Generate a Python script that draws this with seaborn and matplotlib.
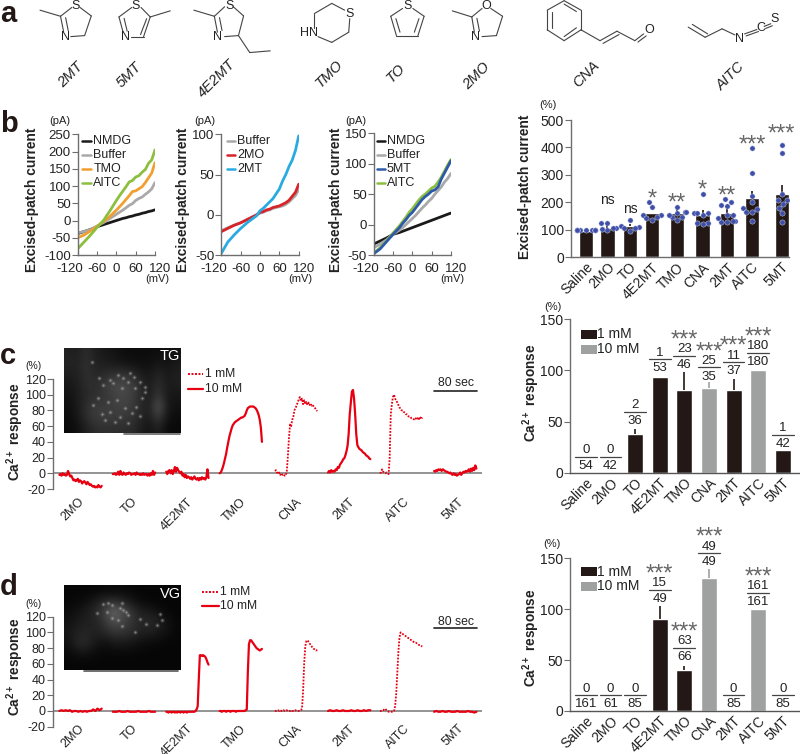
import numpy as np
import matplotlib
matplotlib.use("Agg")
import matplotlib.pyplot as plt
from matplotlib.patches import Rectangle
from matplotlib.transforms import ScaledTranslation
import pandas as pd
import seaborn as sns

sns.set_style("white")
plt.rcParams['font.family'] = ['Liberation Sans', 'DejaVu Sans']
plt.rcParams['axes.unicode_minus'] = False
plt.rcParams['mathtext.fontset'] = 'custom'
plt.rcParams['mathtext.bf'] = 'Liberation Sans:bold'
plt.rcParams['mathtext.rm'] = 'Liberation Sans'

DARK = '#231815'
GREY_BAR = '#9fa0a0'
AXIS = '#6e6e6e'
RED = '#e60012'
BLUE_DOT = '#3f4fa8'

# ---- panel a ----
COMPOUNDS = ['2MT', '5MT', '4E2MT', 'TMO', 'TO', '2MO', 'CNA', 'AITC']
COMPOUND_X = [71, 129, 217, 329, 396, 476, 586, 731]
COMPOUND_Y = [75, 75, 79, 74, 73, 76, 74, 76]

BONDS = [
    (78, 30, 118, 48), (118, 48, 140, 22), (156, 22, 178, 47), (178, 47, 165, 105), (165, 105, 138, 108),
    (118, 48, 124, 93), (128, 52, 133, 90),
    (232, 50, 257, 22), (275, 22, 293, 50), (293, 50, 280, 108), (280, 108, 255, 108), (232, 50, 240, 95),
    (242, 54, 248, 92), (286, 55, 274, 102), (293, 50, 332, 32),
    (378, 30, 418, 48), (418, 48, 438, 20), (455, 20, 475, 47), (475, 47, 465, 105), (465, 105, 438, 108),
    (418, 48, 424, 95), (428, 52, 433, 90), (465, 105, 487, 155), (487, 155, 527, 150),
    (613, 82, 613, 40), (613, 40, 647, 10), (647, 10, 672, 30), (682, 55, 680, 95), (680, 95, 647, 125),
    (647, 125, 620, 108),
    (762, 48, 785, 25), (805, 25, 827, 48), (827, 48, 815, 105), (815, 105, 773, 105), (773, 105, 762, 48),
    (772, 55, 780, 95), (817, 55, 808, 95),
    (882, 32, 920, 50), (920, 50, 940, 25), (957, 25, 980, 48), (980, 48, 968, 105), (968, 105, 940, 108),
    (920, 50, 925, 95), (930, 54, 935, 92),
    (1100, 2, 1133, 30), (1133, 30, 1133, 88), (1133, 88, 1100, 120), (1100, 120, 1067, 88), (1067, 88, 1067, 30),
    (1067, 30, 1100, 2), (1100, 12, 1124, 34), (1124, 82, 1100, 108), (1076, 82, 1076, 36),
    (1133, 88, 1170, 120), (1170, 120, 1203, 92), (1176, 128, 1207, 102), (1203, 92, 1238, 120),
    (1238, 120, 1255, 100), (1244, 124, 1260, 106),
    (1342, 80, 1375, 110), (1350, 72, 1380, 100), (1375, 110, 1408, 85), (1408, 85, 1433, 103),
    (1452, 100, 1476, 87), (1455, 106, 1479, 93), (1490, 78, 1503, 70), (1493, 84, 1506, 76),
]
ATOMS = [
    ('S', 148, 18), ('N', 127, 108), ('S', 265, 18), ('N', 245, 110), ('S', 447, 18), ('N', 425, 110),
    ('S', 682, 40), ('HN', 603, 97), ('S', 795, 18), ('O', 948, 18), ('N', 928, 110), ('O', 1267, 88),
    ('N', 1442, 114), ('C', 1484, 82), ('S', 1510, 57),
]

# ---- panel b current traces ----
MV = [-120, -100, -80, -60, -40, -30, -20, -10, 0, 10, 20, 30, 40, 50, 60, 70, 80, 90, 100, 110, 120]
B1_NMDG = [-38, -32, -26, -18, -12, -9, -6, -3, 0, 3, 6, 8, 11, 13, 16, 18, 21, 23, 26, 28, 31]
B1_BUFFER = [-36, -32, -26, -16, -6, 0, 6, 12, 18, 24, 30, 37, 44, 49, 58, 64, 68, 76, 83, 92, 110]
B1_TMO = [-50, -42, -30, -17, -3, 4, 12, 21, 30, 40, 50, 61, 72, 84, 86, 92, 98, 110, 124, 138, 168]
B1_AITC = [-82, -62, -42, -20, 0, 14, 28, 43, 58, 72, 85, 98, 112, 116, 126, 130, 140, 148, 166, 176, 205]
B2_BUFFER = [-20, -16, -13, -10, -6, -4, -2, 0, 2, 3, 5, 6, 8, 9, 10, 11, 13, 16, 20, 24, 31]
B2_2MO = [-21, -17, -13, -10, -6, -4, -2, 0, 3, 4, 6, 7, 9, 10, 11, 13, 15, 18, 23, 28, 38]
B2_2MT = [-48, -34, -25, -17, -10, -7, -4, -1, 5, 8, 12, 16, 20, 26, 32, 42, 50, 60, 68, 80, 98]
B3_NMDG = [-32, -27, -22, -16, -13, -11, -9, -7, -5, -3, -1, 1, 3, 5, 7, 9, 11, 13, 15, 17, 19]
B3_BUFFER = [-38, -32, -25, -16, -9, -5, 0, 5, 10, 15, 21, 27, 32, 38, 43, 50, 56, 62, 70, 76, 84]
B3_5MT = [-48, -40, -28, -16, -5, 2, 8, 15, 20, 27, 34, 41, 46, 50, 55, 57, 62, 75, 85, 95, 105]
B3_AITC = [-47, -38, -27, -14, -2, 5, 12, 20, 26, 33, 40, 46, 50, 55, 60, 63, 70, 78, 88, 98, 107]

# ---- panel b bars ----
DRUGS = ['Saline', '2MO', 'TO', '4E2MT', 'TMO', 'CNA', '2MT', 'AITC', '5MT']
B4_POS = [0, 0.98, 2, 3, 4.15, 5.3, 6.4, 7.55, 8.9]
B4_MEAN = [96, 108, 113, 160, 160, 155, 162, 215, 232]
B4_ERR = [0, 12, 9, 0, 15, 17, 13, 28, 33]
B4_POINTS = [
    [100] * 9,
    [124, 126, 106, 106, 100, 104],
    [136, 112, 114, 97, 105, 106],
    [200, 182, 154, 154, 146, 136, 142],
    [183, 160, 166, 166, 148, 154, 148, 136],
    [231, 160, 160, 160, 154, 126, 126, 121],
    [212, 190, 203, 187, 154, 154, 130, 133, 133, 144, 128],
    [397, 306, 225, 203, 178, 176, 164, 164, 133],
    [409, 381, 231, 209, 209, 194, 178, 160, 130],
]
B4_SIG = ['', 'ns', 'ns', '*', '**', '*', '**', '***', '***']
B4_SIG_Y = [0, 209, 175, 229, 215, 263, 243, 427, 466]

# ---- panel c and d bars ----
C_MEAN = [0, 0, 37.5, 94, 81, 83, 81, 100, 22]
C_ERR = [0, 0, 5.5, 0, 17, 6, 11, 0, 0]
C_DOSE = ['1 mM', '1 mM', '1 mM', '1 mM', '1 mM', '10 mM', '1 mM', '10 mM', '1 mM']
C_NUM = [0, 0, 2, 1, 23, 25, 11, 180, 1]
C_DEN = [54, 42, 36, 53, 46, 35, 37, 180, 42]
C_LINE = [15.6, 15.6, 59.7, 111, 114, 103, 108, 117, 37]
C_STARS = [0, 0, 0, 0, 1, 1, 1, 1, 0]

D_MEAN = [0, 0, 0, 90, 40, 131, 0, 100, 0]
D_ERR = [0, 0, 0, 13, 4, 8, 0, 0, 0]
D_DOSE = ['1 mM', '1 mM', '1 mM', '1 mM', '1 mM', '10 mM', '1 mM', '10 mM', '1 mM']
D_NUM = [0, 0, 0, 15, 63, 49, 0, 161, 0]
D_DEN = [161, 61, 85, 49, 66, 49, 85, 161, 85]
D_LINE = [15.4, 15.4, 15.4, 119, 62, 155, 15.4, 116, 15.4]
D_STARS = [0, 0, 0, 1, 1, 1, 0, 1, 0]

# ---- panel c and d calcium traces ----
TRACE_NAMES = ['2MO', 'TO', '4E2MT', 'TMO', 'CNA', '2MT', 'AITC', '5MT']
TRACE_LABEL_SEC = [38, 145, 234, 343, 449, 551, 653, 757]
TRACE_START = [12.6, 113.6, 214.6, 315.6, 420, 520.5, 618.6, 721]
C_TRACES = [
    [-2, -1, -3, 0, -2, -1, -3, -2, 3, -1, -4, -3, -6, -9, -8, -10, -9, -7, -11, -9, -10, -13, -11, -10, -12, -14,
     -11, -13, -15, -14, -16, -17, -16, -18, -17, -18, -15, -17, -18, -16],
    [-1, -1, 0, -2, -1, 2, -2, 3, -1, -2, 1, -1, -2, 0, -1, 1, 0, -2, -1, -1, 0, -2, 1, -1, -1, -2, -1, -2, 0, -2,
     -1, -1, -3, -1, -3, 0, -2, 3, -2, 1],
    [2, -1, 3, 4, 0, 4, -1, 3, 8, 2, 7, 4, 2, 0, 2, -3, -1, -5, -2, -6, -4, -5, -7, -5, -8, -6, -4, -7, -8, -6, -9,
     -6, -8, -5, -7, -6, -8, -5, 5, -6],
    [0, 1, 4, 8, 13, 19, 25, 33, 40, 47, 52, 57, 61, 63, 65, 66, 67, 68, 69, 70, 71, 71, 72, 73, 76, 80, 83, 84, 85,
     85, 85, 85, 84, 83, 81, 78, 74, 68, 58, 40],
    [3, 4, 1, -1, 1, -2, 0, -2, -1, -3, -3, 3, 22, 45, 62, 60, 68, 72, 80, 83, 86, 90, 94, 97, 92, 95, 88, 93, 88,
     91, 87, 90, 87, 89, 86, 87, 84, 83, 81, 79],
    [1, 3, 1, 4, 2, 3, 2, 5, 4, 8, 7, 11, 13, 15, 18, 19, 23, 28, 35, 50, 75, 90, 104, 106, 95, 75, 50, 36, 33, 31,
     30, 29, 27, 26, 25, 23, 22, 21, 19, 18],
    [0, 1, 5, 2, 1, 0, 1, 0, -1, 20, 75, 88, 97, 100, 95, 93, 90, 87, 84, 82, 80, 80, 78, 77, 75, 75, 73, 72, 72,
     70, 70, 69, 68, 70, 68, 71, 69, 72, 69, 71],
    [3, 2, 4, 3, 5, 4, 5, 3, 5, 4, 3, 2, 2, 1, 0, 1, -1, -2, 0, -2, -1, -3, -2, -1, 1, -2, 0, 2, 1, 3, 2, 3, 5, 2,
     6, 3, 7, 4, 10, 6],
]
D_TRACES = [
    [0, 1, 0, 1, 0, 1, -1, 0, 0, -1, 0, -1, 0, -1, 0, 0, 2, 0, 3, 1, 3],
    [-1, -1, -1, 0, -1, -1, -1, 0, -1, -1, -1, -1, 0, -1, -1, -1, -1, 0, -1, -1, -1],
    [-1, -1, -2, -1, -1, -2, -1, -1, -2, -1, -2, -1, -1, -2, -1, -1, -2, -1, -1, -2, -1, -1, -1, -1, -1, -1, -1, 0,
     2, 6, 40, 71, 71, 70, 71, 70, 69, 66, 62, 59],
    [0, 0, -1, 0, 0, 0, -1, 0, 0, 0, -1, 0, 0, 0, 0, -1, 0, 0, 0, 0, 0, 0, 0, 0, 1, 2, 50, 85, 90, 90, 88, 86, 84,
     82, 80, 79, 78, 77, 78, 79],
    [0, 0, 1, 1, 0, 1, 0, 0, 1, 0, 0, 1, 0, 0, 0, 1, 0, 0, 0, 1, 0, 0, 0, 0, 1, 3, 25, 60, 82, 89, 90, 88, 86, 84,
     82, 80, 79, 78, 77, 78],
    [0, 1, 0, 0, 1, 0, 0, 1, 0, 0, 0, 1, 0, 0, 1, 0, 0, 1, 0, 1, 1],
    [0, 0, 1, 1, 2, 3, 1, 0, -1, -1, -1, -1, -1, 0, 6, 22, 48, 75, 93, 100, 99, 98, 97, 96, 95, 94, 93, 92, 91, 90,
     89, 88, 87, 87, 86, 85, 84, 84, 83, 82],
    [-1, 0, -1, -1, 0, -1, -1, 0, -1, -1, -1, 0, -1, -1, -1, -1, 0, -1, -1, -2, -1],
]
DOTTED = ['CNA', 'AITC']

# ---- micrographs, brightness on a coarse grid plus bright spots (zoom units) ----
TG_IMAGE = [
    [34, 30, 46, 30, 24, 20, 14, 12, 12, 12, 14, 16, 18],
    [36, 34, 50, 34, 30, 26, 22, 18, 16, 16, 24, 18, 26],
    [30, 32, 48, 38, 44, 50, 54, 46, 30, 22, 38, 24, 32],
    [22, 30, 46, 44, 58, 72, 74, 66, 44, 26, 48, 26, 30],
    [18, 26, 40, 46, 52, 62, 72, 64, 44, 26, 56, 24, 22],
    [14, 26, 48, 58, 60, 62, 66, 60, 40, 30, 90, 24, 18],
    [12, 22, 46, 60, 62, 60, 58, 54, 38, 28, 60, 18, 12],
    [10, 16, 32, 44, 48, 46, 44, 44, 30, 18, 34, 10, 10],
]
TG_SPOTS_X = [118, 150, 175, 190, 210, 222, 240, 255, 130, 160, 185, 205, 225, 100, 115, 145, 170, 195, 228, 245,
              125, 150, 180, 215, 240, 95, 135, 165, 255, 205]
TG_SPOTS_Y = [98, 105, 90, 100, 85, 95, 110, 125, 120, 115, 130, 112, 128, 180, 160, 172, 165, 188, 185, 160,
              208, 200, 215, 205, 212, 50, 225, 232, 140, 235]
VG_IMAGE = [
    [6, 6, 6, 6, 8, 8, 8, 8, 6, 6, 6, 6, 6],
    [8, 10, 14, 26, 40, 42, 36, 20, 10, 8, 6, 6, 6],
    [12, 18, 28, 40, 64, 110, 80, 54, 32, 26, 16, 8, 6],
    [18, 26, 32, 34, 52, 76, 70, 52, 38, 42, 34, 18, 8],
    [22, 34, 38, 32, 38, 50, 50, 44, 32, 30, 24, 14, 8],
    [16, 40, 40, 22, 14, 22, 24, 20, 14, 10, 8, 6, 6],
    [8, 14, 16, 10, 8, 8, 8, 8, 6, 6, 6, 6, 6],
    [6, 6, 6, 6, 6, 6, 6, 6, 6, 6, 6, 6, 6],
]
VG_SPOTS_X = [128, 143, 155, 185, 180, 190, 197, 205, 140, 157, 112, 240, 258, 225, 300, 305, 292, 185, 175]
VG_SPOTS_Y = [73, 68, 75, 68, 85, 90, 97, 105, 95, 113, 100, 118, 132, 157, 102, 120, 134, 138, 120]


def px_axes(fig, left, top, right, bottom):
    """Axes placed from picture pixel edges."""
    return fig.add_axes([left / 800, 1 - bottom / 754, (right - left) / 800, (bottom - top) / 754])


def style_axis(ax):
    sns.despine(ax=ax)
    for side in ['left', 'bottom']:
        ax.spines[side].set_color(AXIS)
        ax.spines[side].set_linewidth(1.0)
    ax.patch.set_alpha(0)


def plot_iv(fig, box, ylim, yticks, traces):
    """Current voltage panel."""
    ax = px_axes(fig, *box)
    df = pd.DataFrame({name: vals for name, vals, _ in traces}, index=MV).reset_index(names='mV')
    for name, _, color in traces:
        sns.lineplot(data=df, x='mV', y=name, color=color, lw=2.0, ax=ax, legend=False)
    ax.set_xlim(-120, 120)
    ax.set_ylim(*ylim)
    ax.set_xticks([-120, -60, 0, 60, 120])
    ax.set_yticks(yticks)
    ax.set_xlabel('')
    ax.set_ylabel('')
    ax.tick_params(axis='x', direction='in', length=3, width=0.8, color=AXIS, labelsize=9.5, pad=6, labelcolor='#222222', bottom=True)
    ax.tick_params(axis='y', direction='out', length=4, width=0.8, color=AXIS, labelsize=9.5, pad=1, labelcolor='#222222', left=True)
    # end labels sit further out than their ticks
    labels = ax.get_xticklabels()
    for lab, dx in [(labels[0], -5.5), (labels[-1], 4)]:
        lab.set_transform(lab.get_transform() + ScaledTranslation(dx / 72, 0, fig.dpi_scale_trans))
    style_axis(ax)
    return ax


def plot_fraction_bars(fig, box, means, errs, doses, nums, dens, lines, stars):
    """Bars of responding cells with n/N written above each bar."""
    ax = px_axes(fig, *box)
    df = pd.DataFrame({'drug': DRUGS, 'mean': means, 'dose': doses})
    sns.barplot(data=df, x='drug', y='mean', hue='dose', palette={'1 mM': DARK, '10 mM': GREY_BAR}, dodge=False,
                width=0.65, saturation=1, errorbar=None, legend=False, ax=ax)
    for i, (m, e) in enumerate(zip(means, errs)):
        if e > 0:
            ax.errorbar(i, m, yerr=[[0], [e]], fmt='none', ecolor=DARK if doses[i] == '1 mM' else GREY_BAR, elinewidth=1.2)
    ax.set_xlim(-0.646, 8.69)
    ax.set_ylim(0, 150)
    ax.set_yticks([0, 50, 100, 150])
    ax.set_xlabel('')
    ax.set_ylabel('')
    ax.tick_params(axis='y', left=True, direction='out', length=4, width=0.8, color=AXIS, labelsize=10, pad=1, labelcolor='#222222')
    ax.tick_params(axis='x', length=0, labelsize=10, pad=2, labelcolor='#222222')
    plt.setp(ax.get_xticklabels(), rotation=45, ha='right', rotation_mode='anchor')
    for i in range(len(DRUGS)):
        ax.plot([i - 0.44, i + 0.44], [lines[i], lines[i]], color='#444444', lw=0.9, clip_on=False, zorder=5)
        ax.annotate(str(nums[i]), (i, lines[i]), xytext=(0, 4.8), textcoords='offset points', ha='center', va='center',
                    fontsize=9.5, color='#222222', annotation_clip=False)
        ax.annotate(str(dens[i]), (i, lines[i]), xytext=(0, -6.6), textcoords='offset points', ha='center', va='center',
                    fontsize=9.5, color='#222222', annotation_clip=False)
        if stars[i]:
            ax.annotate('***', (i, lines[i]), xytext=(0, 11), textcoords='offset points', ha='center', va='center',
                        fontsize=17, color='#666666', annotation_clip=False)
    style_axis(ax)
    ax.spines['bottom'].set_color('#555555')
    return ax


def plot_traces(fig, box, traces, label_pad):
    """Calcium traces laid out one after the other on a time axis."""
    ax = px_axes(fig, *box)
    for name, start, vals in zip(TRACE_NAMES, TRACE_START, traces):
        t = np.linspace(start, start + 80, len(vals))
        if name in DOTTED:
            sns.lineplot(x=t, y=vals, color=RED, lw=1.3, linestyle=(0, (1, 0.8)), ax=ax, legend=False, errorbar=None, zorder=3)
        else:
            sns.lineplot(x=t, y=vals, color=RED, lw=1.6, ax=ax, legend=False, errorbar=None, zorder=3)
    ax.axhline(0, color='#777777', lw=1.1, zorder=2)
    ax.set_xlim(0, 811)
    ax.set_ylim(-20, 120)
    ax.set_yticks(np.arange(-20, 121, 20))
    ax.set_xticks(TRACE_LABEL_SEC)
    ax.set_xticklabels(TRACE_NAMES, rotation=45, ha='center')
    ax.tick_params(axis='x', length=0, labelsize=9, pad=label_pad, labelcolor='#222222')
    ax.tick_params(axis='y', left=True, direction='out', length=4, width=0.8, color=AXIS, labelsize=9, pad=1, labelcolor='#222222')
    style_axis(ax)
    ax.spines['bottom'].set_visible(False)
    return ax


fig = plt.figure(figsize=(8, 7.54), dpi=100)

# top layer working in picture pixels, for labels and drawings
ov = fig.add_axes([0, 0, 1, 1], zorder=10)
ov.patch.set_alpha(0)
ov.axis('off')


def ptext(x, y, s, **kw):
    kw.setdefault('ha', 'center')
    kw.setdefault('va', 'center')
    kw.setdefault('fontsize', 9)
    kw.setdefault('color', '#222222')
    ov.text(x, y, s, **kw)


# panel letters
for letter, ly in zip('abcd', [22, 132, 363.5, 595]):
    ptext(0, ly, letter, ha='left', va='baseline', fontsize=21, fontweight='bold', color=DARK)

# panel a
for x1, y1, x2, y2 in BONDS:
    ov.plot([x1 / 1.95, x2 / 1.95], [y1 / 2.95, y2 / 2.95], color='#444444', lw=0.8, solid_capstyle='round')
for atom, ax_, ay_ in ATOMS:
    ptext(ax_ / 1.95, ay_ / 2.95, atom, fontsize=9)
for name, cx, cy in zip(COMPOUNDS, COMPOUND_X, COMPOUND_Y):
    ptext(cx, cy, name, rotation=45, fontstyle='italic', fontsize=10.5)

# panel b current traces
BLACK, GR, ORANGE, GREEN = '#1a1a1a', '#a9a9a9', '#f0a030', '#8cbf3f'
plot_iv(fig, (77.7, 134.3, 155, 255), (-100, 250), np.arange(-100, 251, 50),
        [('NMDG', B1_NMDG, BLACK), ('Buffer', B1_BUFFER, GR), ('TMO', B1_TMO, ORANGE), ('AITC', B1_AITC, GREEN)])
plot_iv(fig, (221.3, 134.3, 298.7, 255), (-50, 100), [-50, 0, 50, 100],
        [('Buffer', B2_BUFFER, GR), ('2MO', B2_2MO, '#d8232a'), ('2MT', B2_2MT, '#29abe2')])
plot_iv(fig, (373.7, 133.3, 451, 255), (-50, 150), [-50, 0, 50, 100, 150],
        [('NMDG', B3_NMDG, BLACK), ('Buffer', B3_BUFFER, GR), ('AITC', B3_AITC, GREEN), ('5MT', B3_5MT, '#2c5aa8')])

IV_LEGENDS = [
    (81.7, 90.7, 93.3, [('NMDG', BLACK), ('Buffer', GR), ('TMO', ORANGE), ('AITC', GREEN)]),
    (226.7, 235, 237, [('Buffer', GR), ('2MO', '#d8232a'), ('2MT', '#29abe2')]),
    (376.7, 385, 386.7, [('NMDG', BLACK), ('Buffer', GR), ('5MT', '#2c5aa8'), ('AITC', GREEN)]),
]
for x0, x1, tx, rows in IV_LEGENDS:
    for (name, color), ry in zip(rows, [140.7, 155, 169.3, 183.3]):
        ov.plot([x0, x1], [ry, ry], color=color, lw=1.8)
        ptext(tx, ry, name, ha='left', fontsize=9)
for x_label, x_pa, x_mv in [(31.7, 60, 157.7), (183, 205, 300), (336, 356, 452)]:
    ptext(x_label, 200, 'Excised-patch current', rotation=90, fontweight='bold', fontsize=9.9)
    ptext(x_pa, 120.7, '(pA)', fontsize=8)
    ptext(x_mv, 279, '(mV)', fontsize=8)

# panel b bars
ax_b = px_axes(fig, 570.7, 120, 789, 257.3)
b4_df = pd.DataFrame({'pos': B4_POS, 'mean': B4_MEAN})
sns.barplot(data=b4_df, x='pos', y='mean', native_scale=True, width=0.66, color=DARK, saturation=1, errorbar=None, ax=ax_b)
ax_b.errorbar(B4_POS, B4_MEAN, yerr=[np.zeros(len(B4_ERR)), B4_ERR], fmt='none', ecolor=DARK, elinewidth=1.2)
pts_df = pd.DataFrame([(p, v) for p, vals in zip(B4_POS, B4_POINTS) for v in vals], columns=['pos', 'val'])
sns.swarmplot(data=pts_df, x='pos', y='val', native_scale=True, color=BLUE_DOT, size=3.8, edgecolor='#dfe3f5', linewidth=0.3,
              warn_thresh=1, zorder=4, ax=ax_b)
ax_b.set_xlim(-0.69, 8.9 + 0.33)
ax_b.set_ylim(0, 500)
ax_b.set_yticks(np.arange(0, 501, 100))
ax_b.set_xticks(B4_POS)
ax_b.set_xticklabels(DRUGS, rotation=45, ha='right', rotation_mode='anchor')
ax_b.set_xlabel('')
ax_b.set_ylabel('')
ax_b.tick_params(axis='y', left=True, direction='out', length=4, width=0.8, color=AXIS, labelsize=10, pad=1, labelcolor='#222222')
ax_b.tick_params(axis='x', length=0, labelsize=10, pad=2, labelcolor='#222222')
for p, sig, sy in zip(B4_POS, B4_SIG, B4_SIG_Y):
    if sig == 'ns':
        ax_b.text(p, sy, sig, ha='center', va='center', fontsize=10, color='#222222')
    elif sig:
        ax_b.annotate(sig, (p, sy), xytext=(0, -4), textcoords='offset points', ha='center', va='center', fontsize=17,
                      color='#666666', annotation_clip=False)
style_axis(ax_b)
ptext(547.7, 105, '(%)', fontsize=8)
ptext(525, 186.7, 'Excised-patch current', rotation=90, fontweight='bold', fontsize=9.9)

# panel c and d bars
plot_fraction_bars(fig, (570, 319.3, 799.7, 472.7), C_MEAN, C_ERR, C_DOSE, C_NUM, C_DEN, C_LINE, C_STARS)
plot_fraction_bars(fig, (570, 558.3, 799.7, 711), D_MEAN, D_ERR, D_DOSE, D_NUM, D_DEN, D_LINE, D_STARS)
CA_LABEL = r'Ca$\mathbf{^{2+}}$ response'
ptext(552.7, 307, '(%)', fontsize=8)
ptext(531.7, 393, CA_LABEL, rotation=90, fontweight='bold', fontsize=9.8)
ptext(551.7, 544.3, '(%)', fontsize=8)
ptext(530.7, 638, CA_LABEL, rotation=90, fontweight='bold', fontsize=9.8)
for y1, y2 in [(334, 349), (571.7, 586)]:
    for ry, color, name in [(y1, DARK, '1 mM'), (y2, GREY_BAR, '10 mM')]:
        ov.add_patch(Rectangle((581, ry - 4.5), 15.7, 9, color=color, lw=0))
        ptext(597, ry, name, ha='left', fontsize=10)

# panel c and d traces
plot_traces(fig, (52.7, 379, 481.7, 489), C_TRACES, 5)
plot_traces(fig, (52.7, 616.7, 481.7, 726.7), D_TRACES, -3)
ptext(15.7, 431.7, CA_LABEL, rotation=90, fontweight='bold', fontsize=9.8)
ptext(15.7, 667, CA_LABEL, rotation=90, fontweight='bold', fontsize=9.8)
ptext(33.3, 366, '(%)', fontsize=7.5)
ptext(33.3, 604, '(%)', fontsize=7.5)

for x0, x1, tx, y1, y2 in [(188, 203, 205, 374, 389), (202, 219, 220, 592, 605.7)]:
    ov.plot([x0, x1], [y1, y1], color=RED, lw=1.4, ls=(0, (1, 0.8)))
    ptext(tx, y1, '1 mM', ha='left', fontsize=8.7)
    ov.plot([x0, x1], [y2, y2], color=RED, lw=1.6)
    ptext(tx, y2, '10 mM', ha='left', fontsize=8.7)
for by, ty in [(390.7, 383), (628.3, 621.7)]:
    ov.plot([434.3, 476.7], [by, by], color='#222222', lw=1.2)
    ptext(456, ty, '80 sec', fontsize=8.8)

# micrographs
for grid, sx, sy, (x0, x1, y0, y1), ox, oy, tag in [
    (TG_IMAGE, TG_SPOTS_X, TG_SPOTS_Y, (63.5, 180, 348, 433), 60, 345, 'TG'),
    (VG_IMAGE, VG_SPOTS_X, VG_SPOTS_Y, (63.5, 180, 585, 670), 60, 580, 'VG'),
]:
    ov.imshow(np.array(grid), cmap='gray', vmin=0, vmax=255, extent=(x0, x1, y1, y0), aspect='auto',
              interpolation='bicubic', zorder=1)
    spot_x, spot_y = ox + np.array(sx) / 3, oy + np.array(sy) / 3
    ov.scatter(spot_x, spot_y, s=12, color='#b0b0b0', lw=0, alpha=0.14, zorder=2)
    ov.scatter(spot_x, spot_y, s=2.5, color='#c0c0c0', lw=0, alpha=0.55, zorder=2)
    ptext(x1 - 10, y0 + 8.5, tag, color='white', fontsize=10.5, zorder=3)
ov.plot([124, 180], [434, 434], color='#666666', lw=1.2)
ov.plot([84, 178], [671, 671], color='#555555', lw=1.2)

ov.set_xlim(0, 800)
ov.set_ylim(754, 0)

fig.savefig('out.png', dpi=100)
